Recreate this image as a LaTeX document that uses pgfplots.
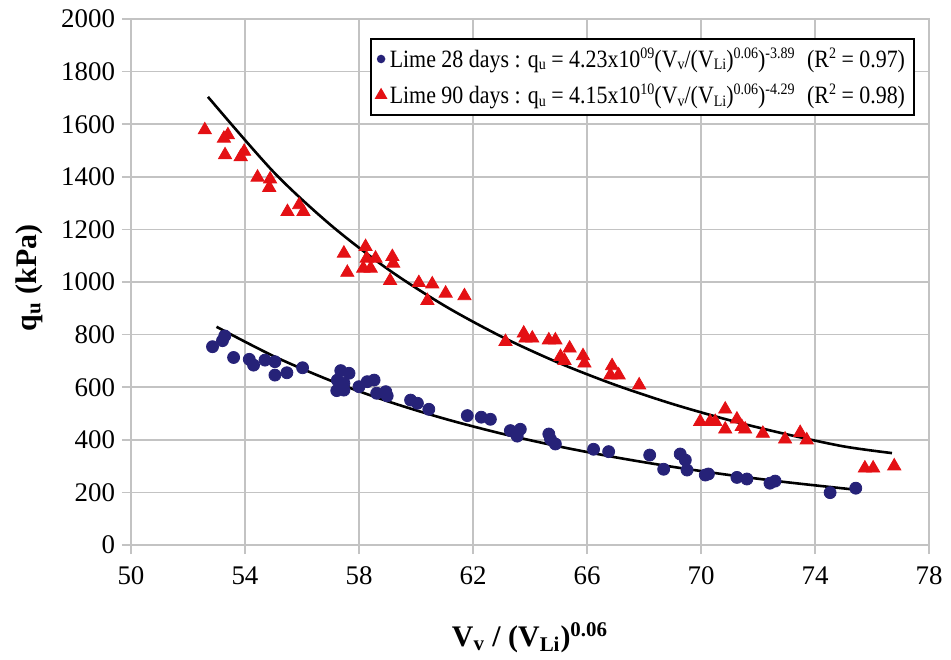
\documentclass[border=0pt]{standalone}
\usepackage{fontspec}
\setmainfont{Liberation Serif}
\newfontfamily\legfont[FakeStretch=0.88]{Liberation Serif}
\usepackage{pgfplots}
\pgfplotsset{compat=1.18}
\definecolor{navy}{RGB}{38,34,120}
\definecolor{mred}{RGB}{228,16,20}
\definecolor{gridgray}{RGB}{195,195,195}
\newcommand{\lsub}[1]{\raisebox{-0.25ex}{\fontsize{8}{9}\selectfont #1}}
\newcommand{\lsup}[1]{\raisebox{0.75ex}{\fontsize{8}{9}\selectfont #1}}
\begin{document}
\begin{tikzpicture}
\begin{axis}[
  name=ax,
  scale only axis,
  width=399bp, height=263bp,
  xmin=50, xmax=78, ymin=0, ymax=2000,
  xtick={50,54,...,78}, ytick={0,200,...,2000},
  grid=major,
  major grid style={gridgray, line width=0.75bp},
  axis line style={gridgray, line width=0.75bp},
  tick style={gridgray, line width=0.75bp},
  tick align=outside, major tick length=4.5bp,
  xtick pos=bottom, ytick pos=left,
  /pgf/number format/assume math mode=true,
  /pgf/number format/1000 sep={},
  tick label style={font=\fontsize{13.5}{15}\selectfont},
  xticklabel style={yshift=-3bp},
  xlabel={\textbf{V\textsubscript{v} / (V\textsubscript{Li})\textsuperscript{0.06}}},
  ylabel={\textbf{q\textsubscript{u} (kPa)}},
  every axis x label/.style={at={(axis description cs:0.5,-0.176)}, anchor=center,
    font=\fontsize{15}{17}\selectfont},
  every axis y label/.style={at={(axis description cs:-0.128,0.508)}, rotate=90, anchor=center,
    font=\fontsize{15}{17}\selectfont},
  legend style={at={(axis description cs:0.9825,0.964)}, anchor=north east,
    draw=black, line width=1bp, fill=white,
    font=\legfont\fontsize{12.5}{14}\selectfont, inner sep=2.5bp,
    row sep=3bp, nodes={inner xsep=2bp}},
  legend cell align=left,
]
\addplot[only marks, mark=*, mark size=3bp, color=navy,
  legend image post style={mark size=1.6bp}] coordinates {
(52.86,754) (53.21,777) (53.29,795) (53.60,713) (54.15,706) (54.30,684)
(54.70,703) (55.05,697) (55.05,646) (55.47,655) (56.02,674) (57.36,663)
(57.65,653) (57.24,627) (57.47,615) (57.22,587) (57.47,589) (58.00,602)
(58.29,621) (58.53,627) (58.62,577) (58.94,583) (58.99,567) (59.81,551)
(60.05,539) (60.45,516) (61.80,492) (62.29,486) (62.61,478) (63.31,435)
(63.66,440) (63.55,414) (64.66,422) (64.72,402) (64.89,384) (66.23,364)
(66.76,355) (68.20,342) (68.69,288) (69.27,346) (69.45,323) (69.51,285)
(70.15,266) (70.26,270) (71.26,257) (71.61,251) (72.42,235) (72.60,243)
(74.53,199) (75.43,216)
};
\addlegendentry{Lime 28 days : q\lsub{u} = 4.23x10\lsup{09}(V\lsub{v}/(V\lsub{Li})\lsup{0.06})\lsup{-3.89}\enspace(R\lsup{2} = 0.97)}
\addplot[only marks, mark=triangle*, mark size=3.8bp, color=mred,
  legend image post style={mark size=2.7bp}] coordinates {
(52.59,1578) (53.26,1546) (53.40,1559) (53.30,1483) (53.85,1476) (53.97,1496)
(54.44,1398) (54.88,1391) (54.85,1359) (55.49,1267) (55.90,1293) (56.05,1267)
(57.47,1109) (57.59,1036) (58.23,1134) (58.27,1090) (58.15,1052) (58.41,1052)
(58.58,1090) (59.17,1096) (59.20,1071) (59.09,1005) (60.10,997) (60.57,992)
(60.40,929) (61.04,957) (61.70,947) (63.14,773) (63.78,805) (63.84,786)
(64.08,786) (64.66,779) (64.89,779) (65.39,748) (65.07,716) (65.21,701)
(65.86,719) (65.91,691) (66.88,681) (66.82,646) (67.11,646) (67.83,608)
(69.97,469) (70.32,469) (70.50,469) (70.85,516) (70.85,440) (71.26,478)
(71.43,450) (71.55,440) (72.17,424) (72.95,402) (73.48,427) (73.71,399)
(75.75,292) (76.04,292) (76.78,300)
};
\addlegendentry{Lime 90 days : q\lsub{u} = 4.15x10\lsup{10}(V\lsub{v}/(V\lsub{Li})\lsup{0.06})\lsup{-4.29}\enspace(R\lsup{2} = 0.98)}
\addplot[black, line width=1.3bp, smooth, forget plot] coordinates {
(53,829.7) (55,718.3) (57,625.2) (59,546.7) (61,480.2) (63,423.6)
(65,375.1) (67,333.4) (69,297.3) (71,266.0) (73,238.8) (75.3,211.7)
};
\addplot[black, line width=1.3bp, smooth, forget plot] coordinates {
(52.7,1704) (55,1418.7) (57,1217.2) (59,1049.8) (61,909.9) (63,792.3)
(65,692.9) (67,608.4) (69,536.3) (71,474.4) (73,421.1) (75,375.0) (76.7,349.4)
};
\end{axis}
\path ([xshift=-65.5bp,yshift=-56.5bp]ax.south west) rectangle ([xshift=11bp,yshift=9.5bp]ax.north east);
\end{tikzpicture}
\end{document}
